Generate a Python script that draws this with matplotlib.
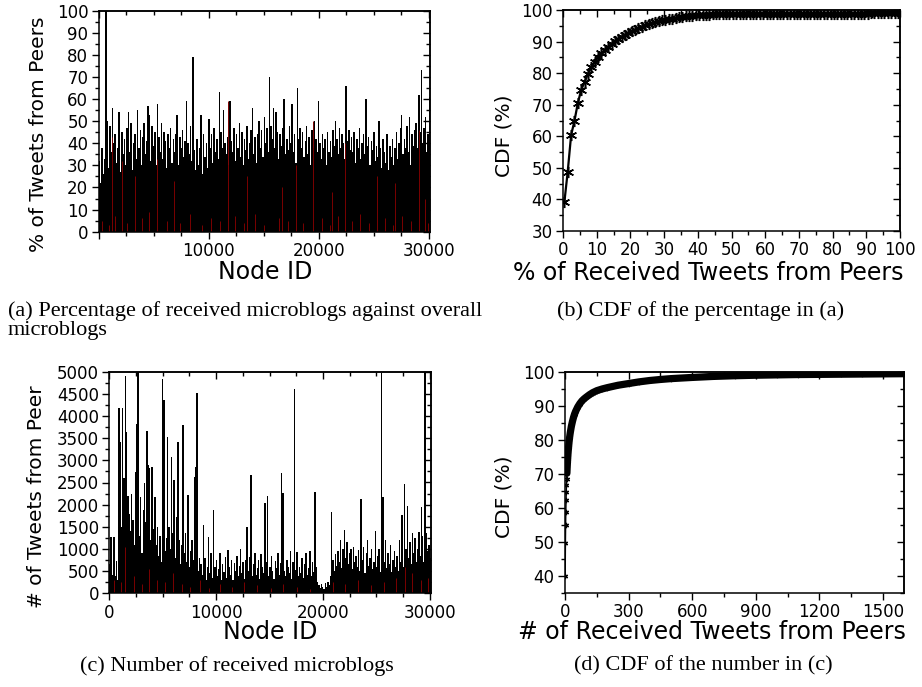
import numpy as np
import matplotlib
matplotlib.use("Agg")
import matplotlib.pyplot as plt
from matplotlib.ticker import MultipleLocator, FixedLocator

# ---------------- data ----------------
NODE_STEP = 120  # node-id width represented by each value below

# (a) % of tweets from peers, one value per group of 120 node IDs
pct_peer = [
    32, 22, 38, 26, 33, 100, 50, 29, 48, 36, 56, 40,
    44, 31, 38, 54, 27, 45, 35, 42, 30, 47, 54, 36,
    49, 28, 40, 44, 33, 55, 38, 46, 30, 43, 49, 35,
    41, 57, 53, 32, 48, 39, 45, 30, 58, 43, 36, 49,
    33, 45, 41, 29, 44, 38, 47, 31, 42, 36, 44, 53,
    30, 43, 38, 46, 34, 41, 59, 40, 35, 48, 32, 79,
    37, 28, 42, 30, 38, 53, 26, 44, 34, 40, 29, 51,
    38, 44, 31, 47, 36, 42, 33, 63, 45, 38, 55, 40,
    35, 43, 30, 59, 41, 36, 47, 32, 44, 38, 49, 34,
    45, 30, 42, 37, 48, 33, 40, 46, 56, 35, 43, 31,
    44, 50, 38, 46, 34, 52, 40, 47, 36, 70, 48, 42,
    56, 38, 54, 45, 33, 44, 39, 47, 60, 35, 42, 37,
    48, 40, 58, 36, 44, 31, 65, 42, 47, 38, 45, 34,
    41, 48, 35, 43, 30, 46, 38, 50, 42, 36, 59, 40,
    33, 44, 38, 42, 30, 45, 36, 41, 34, 46, 39, 50,
    42, 35, 47, 38, 44, 40, 33, 66, 41, 46, 37, 43,
    36, 45, 31, 42, 38, 47, 33, 40, 44, 35, 60, 39,
    43, 30, 41, 37, 45, 32, 39, 34, 50, 38, 29, 42,
    36, 31, 44, 28, 39, 34, 42, 30, 38, 45, 33, 40,
    47, 53, 35, 42, 38, 48, 36, 52, 30, 44, 39, 46,
    49, 38, 62, 45, 73, 40, 47, 52, 36, 44, 61, 37,
]
# second (dark red) series of (a)
red_nodes_a = [300, 900, 1190, 1500, 2100, 2600, 3300, 3900, 4600, 5300, 6200, 6880,
               7400, 8300, 9400, 10200, 11000, 11800, 12400, 13200, 13500, 14200,
               15000, 16400, 16700, 17200, 17950, 18600, 19480, 20300, 21000, 21200,
               21800, 22370, 23000, 23800, 24600, 25260, 26000, 26800, 26900, 27600,
               28400, 29160, 29650, 29900]
red_vals_a = [5, 3, 43, 7, 32, 4, 25, 6, 9, 33, 5, 23,
              4, 8, 3, 6, 5, 59, 7, 4, 25, 8,
              3, 6, 20, 5, 30, 4, 50, 6, 3, 18,
              7, 40, 5, 8, 4, 25, 6, 3, 22, 7,
              5, 46, 15, 4]

# (b) CDF of the percentage in (a)
pct_bins = list(range(0, 101))
pct_cdf = [
    39.1, 48.8, 60.3, 64.9, 70.5, 74.7, 77.2, 79.8, 81.8, 83.5,
    85.0, 86.3, 87.4, 88.4, 89.3, 90.1, 90.9, 91.6, 92.2, 92.8,
    93.3, 93.8, 94.3, 94.7, 95.1, 95.5, 95.8, 96.1, 96.4, 96.7,
    96.9, 97.1, 97.3, 97.5, 97.7, 97.85, 98.0, 98.1, 98.2, 98.3,
    98.4, 98.45, 98.5, 98.55, 98.6, 98.65, 98.7, 98.7, 98.72, 98.74,
    98.75, 98.76, 98.77, 98.78, 98.79, 98.8, 98.8, 98.8, 98.81, 98.81,
    98.82, 98.82, 98.82, 98.83, 98.83, 98.83, 98.84, 98.84, 98.84, 98.85,
    98.85, 98.85, 98.85, 98.86, 98.86, 98.86, 98.86, 98.87, 98.87, 98.87,
    98.87, 98.88, 98.88, 98.88, 98.88, 98.88, 98.89, 98.89, 98.89, 98.89,
    98.89, 98.9, 98.9, 98.9, 98.9, 98.9, 98.9, 98.9, 98.9, 98.9, 98.9,
]

# (c) number of tweets from peers, one value per group of 120 node IDs
num_peer = [
    650, 1280, 420, 1270, 380, 720, 300, 4170, 3420, 1500, 4170, 2600,
    4900, 3640, 2200, 1800, 1400, 2250, 1650, 1100, 2740, 3830, 5000, 1300,
    2180, 900, 1880, 2480, 1600, 3670, 2900, 2820, 1200, 2840, 1450, 2180,
    1100, 1500, 850, 1300, 700, 4830, 4360, 950, 1250, 3530, 1500, 1000,
    3080, 1350, 2550, 800, 1730, 3420, 1200, 650, 1100, 3800, 900, 1350,
    700, 2220, 600, 950, 1200, 750, 2630, 2860, 4530, 500, 800, 650,
    420, 1540, 800, 300, 600, 1280, 450, 900, 350, 1880, 600, 750,
    400, 550, 900, 300, 650, 480, 820, 350, 980, 600, 420, 750,
    300, 680, 500, 850, 380, 620, 1000, 450, 700, 320, 760, 1500,
    500, 820, 2670, 380, 650, 900, 420, 560, 750, 330, 880, 600,
    450, 2030, 700, 2200, 380, 600, 850, 500, 320, 720, 560, 900,
    420, 680, 2720, 2260, 500, 380, 760, 600, 450, 950, 330, 700,
    4620, 520, 940, 380, 600, 450, 800, 350, 650, 900, 420, 560,
    950, 380, 700, 480, 2290, 600, 250, 180, 120, 200, 150, 100,
    230, 140, 260, 180, 400, 1840, 750, 500, 880, 620, 950, 700,
    1200, 560, 1000, 1430, 800, 1150, 650, 900, 1000, 550, 1050, 700,
    850, 600, 980, 500, 2130, 750, 1050, 450, 900, 1200, 620, 800,
    1000, 550, 700, 1410, 600, 850, 1000, 480, 4960, 2180, 700, 1200,
    560, 900, 650, 1100, 480, 750, 950, 600, 850, 500, 1200, 700,
    1770, 600, 2470, 1000, 1980, 800, 1150, 650, 1350, 900, 1250, 700,
    1000, 1390, 850, 1950, 1300, 700, 5000, 1350, 950, 1100, 800, 1130,
]
red_nodes_c = [400, 1100, 1500, 2300, 3100, 3700, 4500, 5200, 6000, 6800, 7600, 8500,
               9300, 10400, 11500, 12600, 13800, 15100, 16300, 17600, 18800, 20900,
               22100, 23300, 24500, 25700, 26800, 27700, 28300, 29200, 29800]
red_vals_c = [300, 250, 1050, 400, 200, 550, 300, 250, 450, 200, 150, 300,
              120, 200, 150, 250, 180, 120, 200, 150, 100, 250,
              200, 300, 180, 250, 350, 600, 450, 300, 350]

# (d) CDF of the number in (c)
cnt_x = [1, 2, 3, 4, 5, 6, 7, 8, 9, 10, 11, 12, 13, 14, 15, 17, 19, 22, 25, 30,
         35, 40, 45, 50, 60, 70, 80, 90, 100, 115, 130, 150, 175, 200, 250, 300,
         350, 400, 450, 500, 600, 700, 800, 900, 1000, 1100, 1200, 1300, 1400,
         1500, 1600]
cnt_cdf = [39.8, 49.6, 55.0, 58.9, 62.2, 64.8, 66.8, 68.6, 70.2, 71.6, 72.8, 73.9,
           74.9, 75.8, 76.6, 78.0, 79.3, 80.9, 82.2, 84.0, 85.4, 86.6, 87.6, 88.4,
           89.7, 90.7, 91.5, 92.1, 92.6, 93.3, 93.9, 94.5, 95.0, 95.4, 96.1, 96.6,
           97.1, 97.5, 97.8, 98.05, 98.4, 98.7, 98.9, 99.05, 99.15, 99.25, 99.3,
           99.35, 99.4, 99.45, 99.5]

# ---------------- figure ----------------
plt.rcParams['font.family'] = ['DejaVu Sans']
W, H = 922, 687
fig = plt.figure(figsize=(W / 100, H / 100), dpi=100)


def box(l, t, r, b):
    return [l / W, 1 - b / H, (r - l) / W, (b - t) / H]


def frame(ax, xlim, ylim, xmaj, xlabels, xmin, ymaj, ymin):
    ax.set_xlim(*xlim)
    ax.set_ylim(*ylim)
    ax.set_xticks(xmaj, xlabels)
    ax.set_yticks(ymaj)
    ax.xaxis.set_minor_locator(MultipleLocator(xmin))
    ax.yaxis.set_minor_locator(MultipleLocator(ymin))
    ax.tick_params(which='both', direction='out', top=False, right=False,
                   labelsize=12, width=1.0, pad=2.5)
    ax.tick_params(which='major', length=5)
    ax.tick_params(which='minor', length=3)
    for s in ax.spines.values():
        s.set_linewidth(1.1)
    top = ax.secondary_xaxis('top')
    top.xaxis.set_major_locator(FixedLocator(xmaj))
    top.xaxis.set_minor_locator(MultipleLocator(xmin))
    top.tick_params(which='both', direction='in', labeltop=False, width=1.0)
    top.tick_params(which='major', length=5)
    top.tick_params(which='minor', length=3)
    top.spines['top'].set_linewidth(1.1)
    right = ax.secondary_yaxis('right')
    right.yaxis.set_major_locator(FixedLocator(ymaj))
    right.yaxis.set_minor_locator(MultipleLocator(ymin))
    right.tick_params(which='both', direction='in', labelright=False, width=1.0)
    right.tick_params(which='major', length=5)
    right.tick_params(which='minor', length=3)
    right.spines['right'].set_linewidth(1.1)


LBL = 17
YLBL = 14.5
RED = '#7a0000'

# (a)
ax_a = fig.add_axes(box(98.7, 10.7, 430, 231.7))
ids_a = np.arange(len(pct_peer)) * NODE_STEP + NODE_STEP / 2
ax_a.bar(ids_a, pct_peer, width=NODE_STEP * 1.15, color='black', linewidth=0)
ax_a.vlines(red_nodes_a, 0, red_vals_a, colors=RED, linewidth=0.7)
frame(ax_a, (0, 30120), (0, 100), [0, 10000, 20000, 30000],
      ['', '10000', '20000', '30000'], 2500, list(range(0, 101, 10)), 5)

# (b)
ax_b = fig.add_axes(box(563, 10, 900, 231))
ax_b.plot(np.array(pct_bins) + 0.4, pct_cdf, color='black', lw=1.6,
          marker=(6, 2, 0), ms=8, mew=1.1)
frame(ax_b, (0, 100), (30, 100), list(range(0, 101, 10)),
      [str(v) for v in range(0, 101, 10)], 5, list(range(30, 101, 10)), 5)

# (c)
ax_c = fig.add_axes(box(109.3, 371.7, 431, 593.3))
ids_c = np.arange(len(num_peer)) * NODE_STEP + NODE_STEP / 2
ax_c.bar(ids_c, num_peer, width=NODE_STEP * 1.15, color='black', linewidth=0)
ax_c.vlines(red_nodes_c, 0, red_vals_c, colors=RED, linewidth=0.7)
frame(ax_c, (0, 30120), (0, 5000), [0, 10000, 20000, 30000],
      ['0', '10000', '20000', '30000'], 2500, list(range(0, 5001, 500)), 250)

# (d)
ax_d = fig.add_axes(box(565, 372, 904.3, 592.7))
cx = np.array(cnt_x)
cy = np.array(cnt_cdf)
band = cx >= 9
ax_d.plot(cx[band], cy[band], color='black', lw=5.2, solid_capstyle='round')
ax_d.plot(cx, cy, color='black', lw=1.0, marker=(6, 2, 0), ms=3.8, mew=0.9)
frame(ax_d, (0, 1600), (35, 100), list(range(0, 1501, 300)),
      [str(v) for v in range(0, 1501, 300)], 150, list(range(40, 101, 10)), 5)


def ft(x, y, s, size, rot=0, ha='center', family=None):
    kw = {}
    if family:
        kw['family'] = family
    fig.text(x / W, 1 - y / H, s, fontsize=size, rotation=rot, ha=ha, va='center', **kw)


ft(38, 134, '% of Tweets from Peers', YLBL, rot=90)
ft(504, 136, 'CDF (%)', YLBL, rot=90)
ft(37, 497, '# of Tweets from Peer', YLBL, rot=90)
ft(504, 497, 'CDF (%)', YLBL, rot=90)
ft(265, 272, 'Node ID', LBL)
ft(708, 273, '% of Received Tweets from Peers', LBL)
ft(270, 632, 'Node ID', LBL)
ft(712, 632, '# of Received Tweets from Peers', LBL)

SERIF = ['Liberation Serif', 'DejaVu Serif']
CAP = 16
ft(8, 311, '(a) Percentage of received microblogs against overall', CAP, ha='left', family=SERIF)
ft(8, 330, 'microblogs', CAP, ha='left', family=SERIF)
ft(557, 311, '(b) CDF of the percentage in (a)', CAP, ha='left', family=SERIF)
ft(237, 666, '(c) Number of received microblogs', CAP, family=SERIF)
ft(703, 666, '(d) CDF of the number in (c)', CAP, family=SERIF)

fig.savefig('out.png', dpi=100)
